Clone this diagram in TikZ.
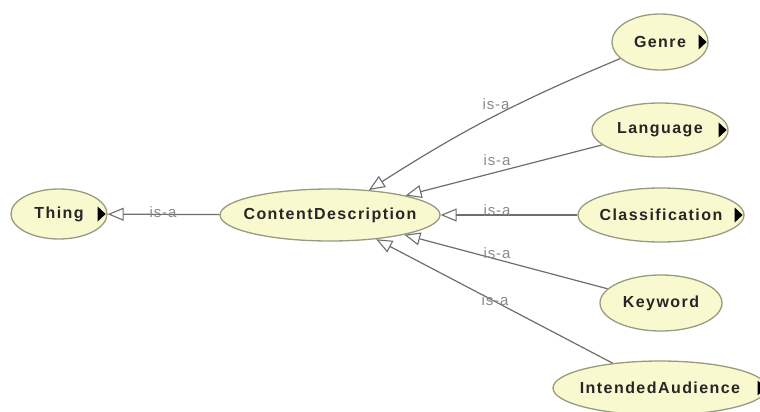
\documentclass[tikz,border=0pt]{standalone}
\usepackage{fontspec}
\setmainfont{Liberation Sans}
\newfontfamily\nodefont[LetterSpace=9]{Liberation Sans}
\newfontfamily\labfont[LetterSpace=6]{Liberation Sans}
\usetikzlibrary{shapes.geometric,arrows.meta}
\definecolor{nodefill}{HTML}{F9F9CF}
\definecolor{nodeline}{HTML}{9A9A82}
\definecolor{edgecol}{HTML}{6E6E6E}
\definecolor{labcol}{HTML}{8A8A8A}
\newcommand{\zb}[1]{\makebox[0pt]{#1}}
\tikzset{
  cls/.style={ellipse, draw=nodeline, line width=1.3pt, fill=nodefill, inner sep=0pt,
    font=\nodefont\bfseries\fontsize{16}{19}\selectfont, text=black!85},
  isa/.style={draw=edgecol, line width=1.2pt, -{Triangle[open, length=16pt, width=13pt, line width=1.1pt]}},
  lab/.style={font=\labfont\fontsize{15}{17}\selectfont, text=labcol, inner sep=0pt},
  more/.style={fill=black}
}
\begin{document}
\begin{tikzpicture}[x=1pt,y=-1pt]
\clip (0,0) rectangle (760,412);
\fill[white] (0,0) rectangle (760,412);

\node[cls, minimum width=96pt, minimum height=50pt] (thing) at (59,214) {\zb{Thing}};
\node[cls, minimum width=220pt, minimum height=52pt] (cd) at (330,215) {\zb{ContentDescription}};
\node[cls, minimum width=96pt, minimum height=56pt] (genre) at (660,42) {\zb{Genre}};
\node[cls, minimum width=136pt, minimum height=54pt] (lang) at (660,130) {\zb{Language}};
\node[cls, minimum width=166pt, minimum height=54pt] (class) at (661,215) {\zb{Classification}};
\node[cls, minimum width=122pt, minimum height=56pt] (kw) at (661,303) {\zb{Keyword}};
\node[cls, minimum width=214pt, minimum height=54pt] (aud) at (660,388) {\zb{IntendedAudience}};

% expand markers
\foreach \n in {thing,genre,lang,class,aud}{
  \fill[more] ([xshift=-10pt]\n.east) ++(0,-7.5) -- ++(0,15) -- ++(8,-7.5) -- cycle;
}

\draw[isa] (cd) -- (thing);
\draw[isa] (genre) to[bend right=5] (cd);
\draw[isa] (lang) -- (cd);
\draw[isa] (class) -- (cd);
\draw[isa] (kw) -- (cd);
\draw[isa] (aud) -- (cd);

\node[lab] (l0) at (163,212) {is-a};
\node[lab] (l1) at (496,104) {is-a};
\node[lab] (l2) at (497,160) {is-a};
\node[lab] (l3) at (497,210) {is-a};
\node[lab] (l4) at (497,253) {is-a};
\node[lab] (l5) at (495,300) {is-a};
\end{tikzpicture}
\end{document}
